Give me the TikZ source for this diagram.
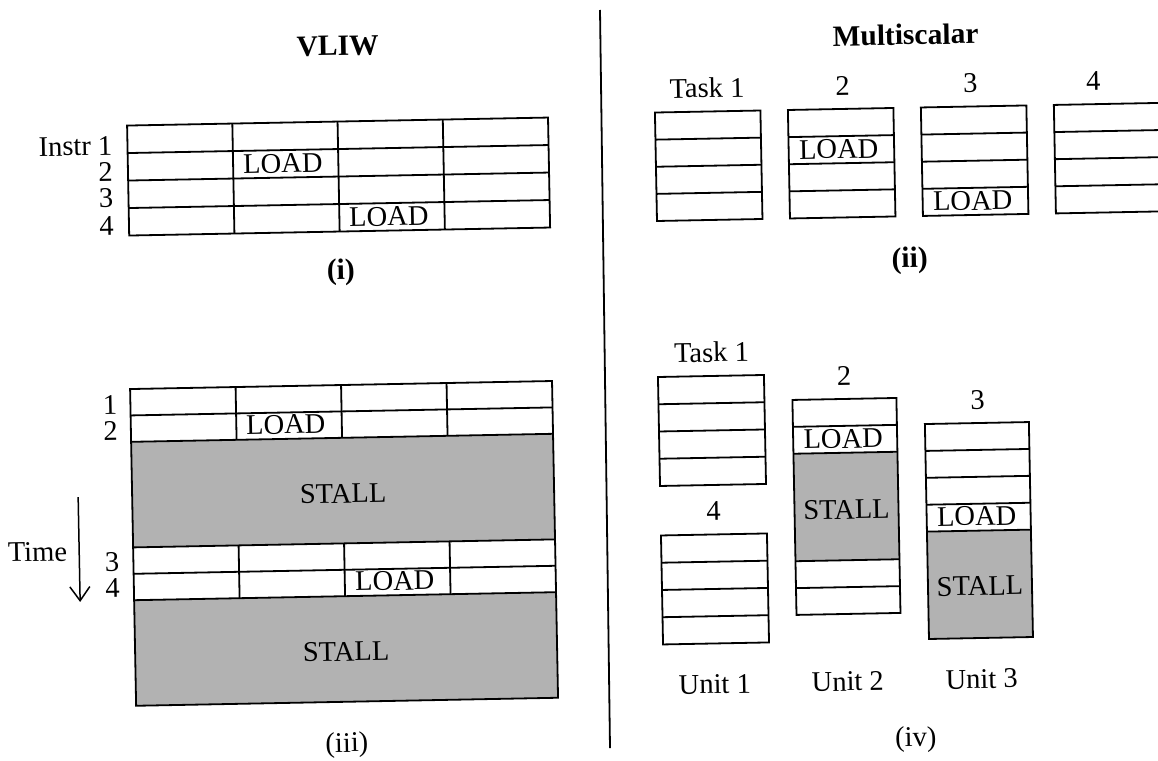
\documentclass[tikz,border=0pt]{standalone}
\usepackage{fontspec}
\setmainfont{Liberation Serif}
\usetikzlibrary{arrows.meta}

\begin{document}
\begin{tikzpicture}[x=1pt,y=-1pt,
  cell/.style={draw=black, line width=1.8pt},
  stallfill/.style={fill=black!30},
  txt/.style={inner sep=0pt, font=\fontsize{28.5}{32}\selectfont},
  ttl/.style={inner sep=0pt, font=\fontsize{29.5}{33}\selectfont\bfseries},
  timearrow/.style={line width=1.5pt, -{Straight Barb[length=14pt,width=20pt]}},
]
\useasboundingbox (0,0) rectangle (1158,760);
\fill[white] (0,0) rectangle (1158,760);

% vertical rule between the two halves
\coordinate (divtop) at (600,10);
\coordinate (divbot) at (610,748);
\draw[line width=1.8pt] (divtop) -- (divbot);

\begin{scope}[rotate around={1.09:(579,380)}, transform shape]

% ---------------- VLIW, (i) ----------------
\node[ttl, anchor=base] (vliw) at (344,51) {VLIW};
\draw[cell] (132,117) rectangle (553,227);
\foreach \y in {144.5,172,199.5} \draw[cell] (132,\y) -- (553,\y);
\foreach \x in {237.25,342.5,447.75} \draw[cell] (\x,117) -- (\x,227);
\node[txt, anchor=base east] (ia) at (117,146) {Instr 1};
\node[txt, anchor=base east] (ib) at (117,172) {2};
\node[txt, anchor=base east] (ic) at (117,198) {3};
\node[txt, anchor=base east] (id) at (117,226) {4};
\node[txt, anchor=base] (iloadA) at (287,167) {LOAD};
\node[txt, anchor=base] (iloadB) at (392,222) {LOAD};
\node[ttl] (capi) at (343,267.5) {(i)};

% ---------------- Multiscalar, (ii) ----------------
\node[ttl, anchor=base] (msc) at (912,51) {Multiscalar};
\foreach \x/\w in {660/105.5,793/105.5,926/105.5,1059/108} {
  \draw[cell] (\x,114) rectangle ++(\w,108.5);
  \foreach \k in {1,2,3} \draw[cell] (\x,114+27.125*\k) -- ++(\w,0);
}
\node[txt, anchor=base] (tA) at (712.5,100) {Task 1};
\node[txt, anchor=base] (tB) at (848,100) {2};
\node[txt, anchor=base] (tC) at (976,100) {3};
\node[txt, anchor=base] (tD) at (1099,100) {4};
\node[txt, anchor=base] (iiloadA) at (843,163.5) {LOAD};
\node[txt, anchor=base] (iiloadB) at (976,217.5) {LOAD};
\node[ttl] (capii) at (912,267) {(ii)};

% ---------------- VLIW with stalls, (iii) ----------------
\fill[stallfill] (130,433.3) rectangle (552,538.9);
\fill[stallfill] (130,591.7) rectangle (552,697.3);
\draw[cell] (130,380.5) rectangle (552,697.3);
\foreach \y in {406.9,433.3,538.9,565.3,591.7} \draw[cell] (130,\y) -- (552,\y);
\foreach \x in {235.5,341,446.5} {
  \draw[cell] (\x,380.5) -- (\x,433.3);
  \draw[cell] (\x,538.9) -- (\x,591.7);
}
\node[txt, anchor=base east] (ja) at (117,405) {1};
\node[txt, anchor=base east] (jb) at (117,431) {2};
\node[txt, anchor=base east] (jc) at (116,562) {3};
\node[txt, anchor=base east] (jd) at (116,588) {4};
\node[txt, anchor=base] (jloadA) at (285,428.3) {LOAD};
\node[txt, anchor=base] (jloadB) at (391,586.7) {LOAD};
\node[txt, anchor=base] (jstallA) at (341,498.5) {STALL};
\node[txt, anchor=base] (jstallB) at (341,656.5) {STALL};
\node[txt, anchor=base east] (time) at (64,551) {Time};
\coordinate (tstart) at (76,487.5);
\coordinate (tend) at (76,592.5);
\draw[timearrow] (tstart) -- (tend);
\node[txt] (capiii) at (340,740.6) {(iii)};

% ---------------- Multiscalar with stalls, (iv) ----------------
% unit 1: tasks 1 and 4
\draw[cell] (658,378.5) rectangle (764,487.5);
\foreach \k in {1,2,3} \draw[cell] (658,378.5+27.25*\k) -- (764,378.5+27.25*\k);
\draw[cell] (658,537) rectangle (764,646);
\foreach \k in {1,2,3} \draw[cell] (658,537+27.25*\k) -- (764,537+27.25*\k);
% unit 2: task 2
\fill[stallfill] (792,457.8) rectangle (896,565.3);
\draw[cell] (792,404) rectangle (896,619);
\foreach \y in {430.9,457.8,565.3,592.2} \draw[cell] (792,\y) -- (896,\y);
% unit 3: task 3
\fill[stallfill] (924,538.2) rectangle (1028,645.6);
\draw[cell] (924,430.6) rectangle (1028,645.6);
\foreach \y in {457.5,484.4,511.3,538.2} \draw[cell] (924,\y) -- (1028,\y);

\node[txt, anchor=base] (uA) at (712,364.5) {Task 1};
\node[txt, anchor=base] (uD) at (711,523) {4};
\node[txt, anchor=base] (uB) at (844,390) {2};
\node[txt, anchor=base] (uC) at (977,416.6) {3};
\node[txt, anchor=base] (kloadA) at (842,453) {LOAD};
\node[txt, anchor=base] (kloadB) at (974,533) {LOAD};
\node[txt, anchor=base] (kstallA) at (844,524) {STALL};
\node[txt, anchor=base] (kstallB) at (976,603) {STALL};
\node[txt, anchor=base] (unitA) at (709,696) {Unit 1};
\node[txt, anchor=base] (unitB) at (842,696) {Unit 2};
\node[txt, anchor=base] (unitC) at (976,696) {Unit 3};
\node[txt] (capiv) at (909,746) {(iv)};

\end{scope}
\end{tikzpicture}
\end{document}
